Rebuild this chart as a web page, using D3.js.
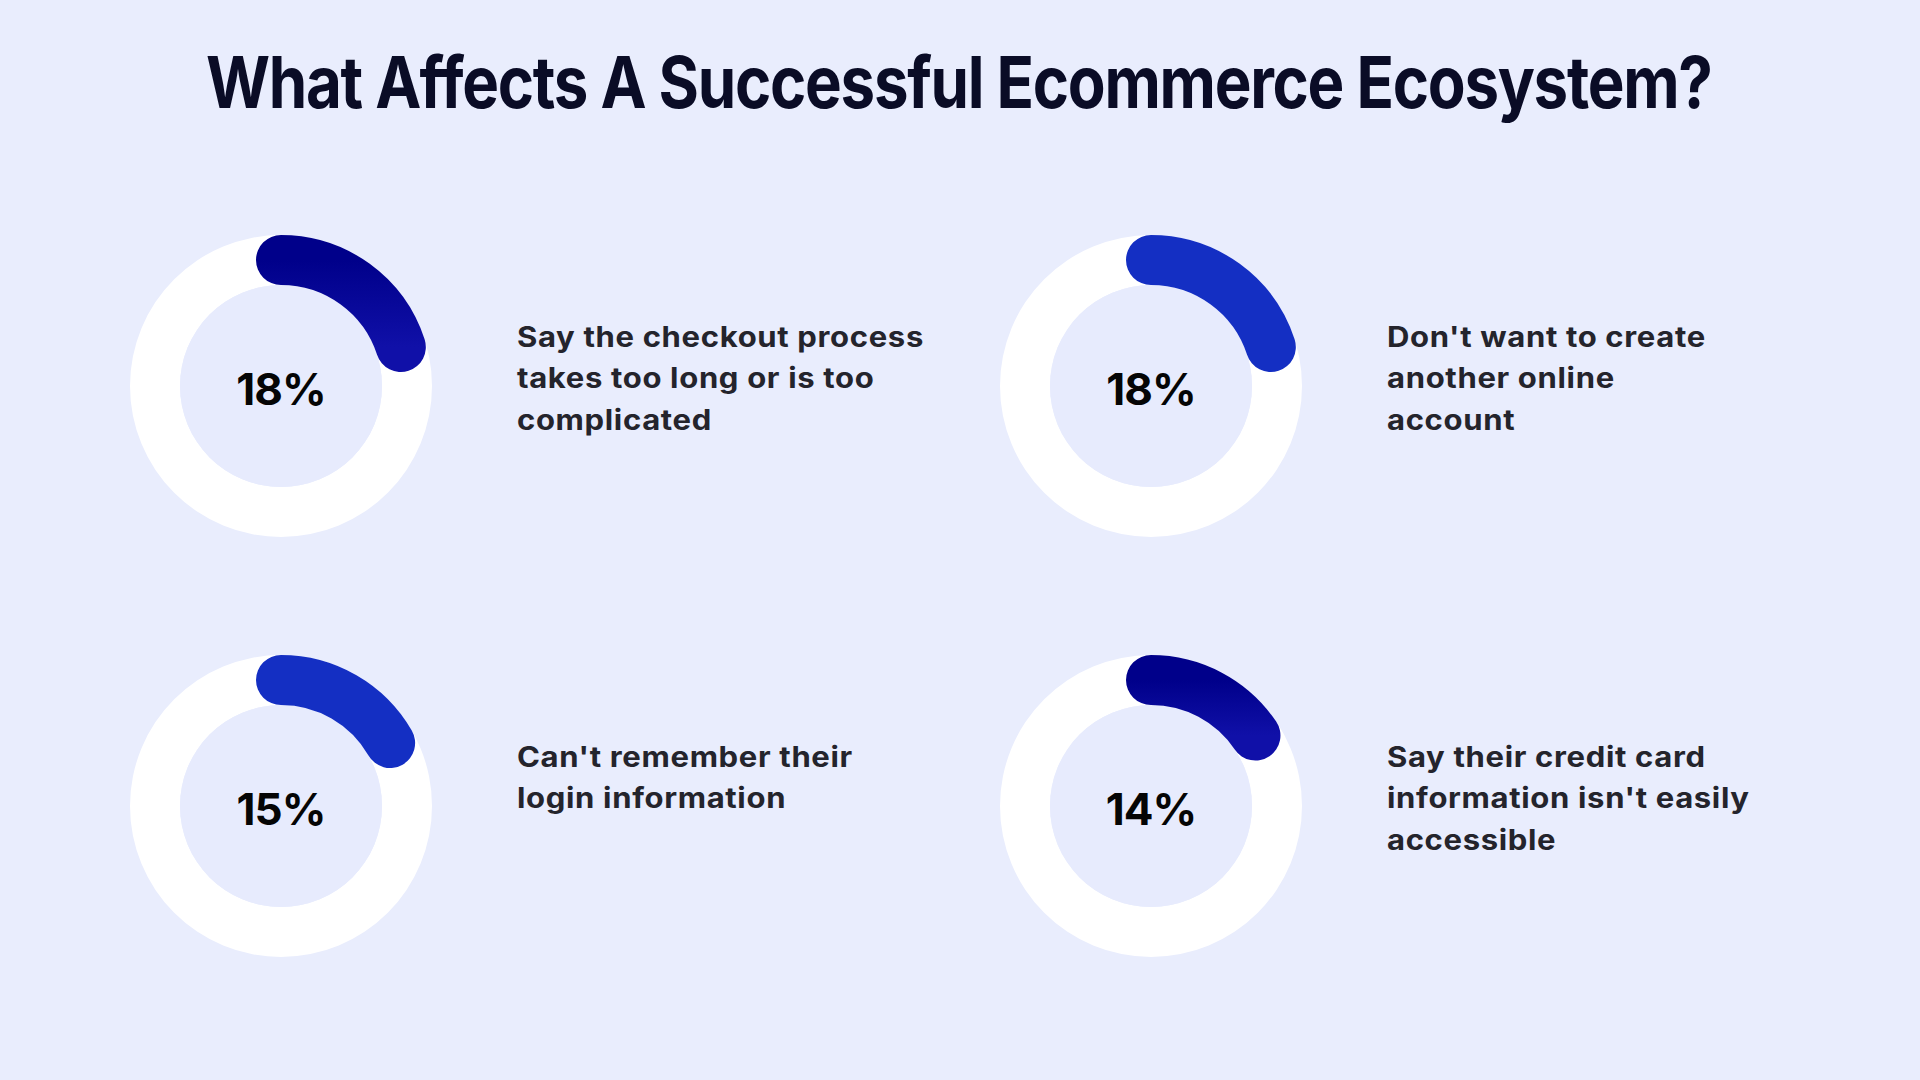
<!DOCTYPE html>
<html>
<head>
<meta charset="utf-8">
<script src="https://cdn.jsdelivr.net/npm/d3@7"></script>
<style>
  html, body { margin: 0; padding: 0; background: #e9edfd; }
  svg { display: block; }
</style>
</head>
<body>
<div id="chart"></div>
<script>
// data
const title = "What Affects A Successful Ecommerce Ecosystem?";
const percents = [18, 18, 15, 14];
const captions = [
  ["Say the checkout process", "takes too long or is too", "complicated"],
  ["Don't want to create", "another online", "account"],
  ["Can't remember their", "login information"],
  ["Say their credit card", "information isn't easily", "accessible"]
];
const arcColors = ["url(#navyGrad)", "#142fc3", "#142fc3", "url(#navyGrad)"];

const width = 1920, height = 1080;
const outerR = 151, innerR = 101, ringR = (outerR + innerR) / 2, thick = outerR - innerR;

// grid positions
const col = d3.scaleOrdinal().domain([0, 1]).range([281, 1151]);
const row = d3.scaleOrdinal().domain([0, 1]).range([386, 806]);
const textOffset = 236;

// gauge angle (round caps stretch a little past the value)
const angle = d3.scaleLinear().domain([0, 90]).range([0, 2 * Math.PI]);

const svg = d3.select("#chart").append("svg")
  .attr("width", width)
  .attr("height", height)
  .attr("viewBox", [0, 0, width, height]);

svg.append("rect").attr("width", width).attr("height", height).attr("fill", "#e9edfd");

const defs = svg.append("defs");
const grad = defs.append("linearGradient")
  .attr("id", "navyGrad")
  .attr("gradientUnits", "objectBoundingBox")
  .attr("x1", 0).attr("y1", 0).attr("x2", 0).attr("y2", 1);
grad.append("stop").attr("offset", "0%").attr("stop-color", "#00008a");
grad.append("stop").attr("offset", "100%").attr("stop-color", "#1010a8");

// title: squeeze horizontally to the reference width
const titleG = svg.append("g");
const titleText = titleG.append("text")
  .attr("x", 0)
  .attr("y", 0)
  .style("font", "700 72px Inter, 'DejaVu Sans', sans-serif")
  .style("letter-spacing", "-1.5px")
  .attr("fill", "#0a0c26")
  .text(title);
const titleScale = 1506 / titleText.node().getComputedTextLength();
titleG.attr("transform", `translate(206,108) scale(${titleScale},1)`);

const track = d3.arc().innerRadius(innerR).outerRadius(outerR).startAngle(0).endAngle(2 * Math.PI);

const items = svg.selectAll("g.item")
  .data(percents.map((p, i) => ({ p, i, lines: captions[i], color: arcColors[i] })))
  .join("g")
  .attr("class", "item")
  .attr("transform", d => `translate(${col(d.i % 2)},${row(Math.floor(d.i / 2))})`);

items.append("path")
  .attr("d", track())
  .attr("fill", "#ffffff");

items.append("circle")
  .attr("r", innerR)
  .attr("fill", "#e7ebfd");

items.append("path")
  .attr("d", d => {
    const p = d3.path();
    p.arc(0, 0, ringR, -Math.PI / 2, angle(d.p) - Math.PI / 2);
    return p.toString();
  })
  .attr("fill", "none")
  .attr("stroke", d => d.color)
  .attr("stroke-width", thick)
  .attr("stroke-linecap", "round");

items.append("text")
  .attr("x", 0)
  .attr("y", 19)
  .attr("text-anchor", "middle")
  .style("font", "700 44px Inter, 'DejaVu Sans', sans-serif")
  .style("letter-spacing", "-1px")
  .attr("fill", "#050505")
  .text(d => d.p + "%");

const labelFont = "700 28px Inter, 'DejaVu Sans', sans-serif";

// measure the first line against the reference width, stretch glyphs to match
const probe = svg.append("text").style("font", labelFont).style("letter-spacing", "0.6px").text(captions[0][0]);
const labelScale = 407 / probe.node().getComputedTextLength();
probe.remove();

items.append("g")
  .attr("transform", `translate(${textOffset},-39) scale(${labelScale},1)`)
  .append("text")
  .style("font", labelFont)
  .style("letter-spacing", "0.6px")
  .attr("fill", "#24242c")
  .selectAll("tspan")
  .data(d => d.lines)
  .join("tspan")
  .attr("x", 0)
  .attr("dy", (d, j) => j === 0 ? 0 : 41.5)
  .text(d => d);
</script>
</body>
</html>
